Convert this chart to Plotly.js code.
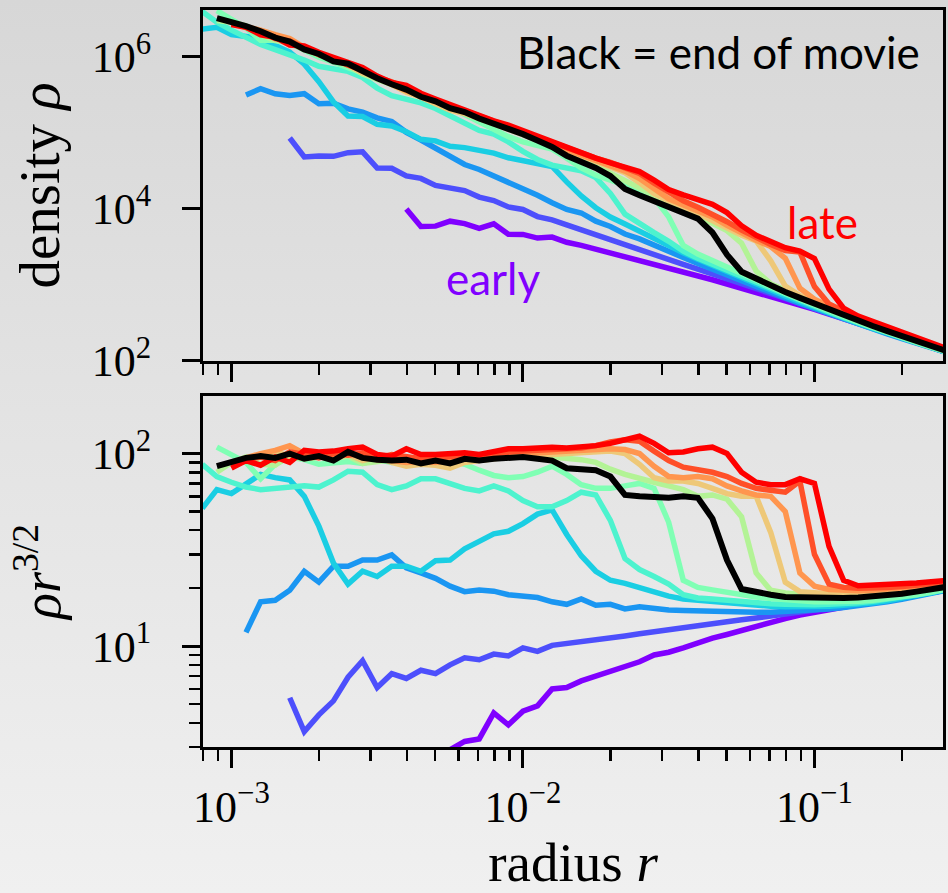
<!DOCTYPE html>
<html>
<head>
<meta charset="utf-8">
<script src="https://cdn.plot.ly/plotly-3.0.1.min.js"></script>
<style>
html,body{margin:0;padding:0;}
body{width:948px;height:893px;overflow:hidden;background:linear-gradient(to bottom,#d7d7d7 0%,#e4e4e4 50%,#f0f0f0 100%);}
#chart{width:948px;height:893px;}
</style>
</head>
<body>
<div id="chart"></div>
<script>
// radius grid (shared by all profiles)
const radius = [7.943e-4, 8.913e-4, 1.000e-3, 1.122e-3, 1.259e-3, 1.413e-3, 1.585e-3, 1.778e-3, 1.995e-3, 2.239e-3,
  2.512e-3, 2.818e-3, 3.162e-3, 3.548e-3, 3.981e-3, 4.467e-3, 5.012e-3, 5.623e-3, 6.310e-3, 7.079e-3,
  7.943e-3, 8.913e-3, 0.01, 0.01122, 0.01259, 0.01413, 0.01585, 0.01778, 0.01995, 0.02239,
  0.02512, 0.02818, 0.03162, 0.03548, 0.03981, 0.04467, 0.05012, 0.05623, 0.06310, 0.07079,
  0.07943, 0.08913, 0.1, 0.1122, 0.1259, 0.1413, 0.1585, 0.1778, 0.1995, 0.2239,
  0.2512, 0.2818];

// compensated profiles rho*r^(3/2), early -> late, then the final (black) snapshot
const snap00 = [null,null,null,null,null,null,null,null,null,null,null,null,null,null,
  2.5,1.75,2.1,2.9,3.2,3.3,4.5,3.9,4.6,4.9,6.0,6.1,6.6,7.0,7.5,7.9,8.3,9.0,9.3,9.8,10.4,11.0,11.5,12.1,12.7,13.3,13.9,14.5,15.0,15.5,16.0,16.5,17.0,17.5,18.0,18.5,19.0,19.5];
const snap01 = [null,null,null,null,null,null,
  5.4,3.6,4.4,5.2,6.9,8.4,6.1,7.2,6.8,7.5,7.2,8.0,8.7,8.5,9.1,8.9,9.8,9.4,10.1,10.3,10.5,10.8,11.1,11.3,11.6,11.9,12.2,12.4,12.8,13.1,13.4,13.7,14.0,14.3,14.6,15.0,15.4,15.8,16.2,16.6,17.0,17.5,18.0,18.5,19.0,19.5];
const snap02 = [null,null,null,
  11.8,17.0,17.3,19.5,24.5,21.5,26.0,26.0,28.0,28.0,29.8,25.5,24.0,22.5,20.5,19.2,19.6,19.3,18.5,18.2,17.9,17.0,16.5,17.6,16.3,16.5,15.6,16.0,15.6,15.4,15.3,15.2,15.1,15.0,15.0,15.0,15.0,15.1,15.2,15.4,15.6,15.9,16.2,16.6,17.0,17.5,18.1,18.8,19.5];
const snap03 = [52,65,62,70,78,75,73,60,42,27,21,24.5,23,26,26,24.5,27.8,28,32,35,38.3,39.5,43.3,48.5,51,38,29.5,24.5,22,21.2,20.2,19.0,18.2,17.6,17.3,17.0,16.7,16.4,16.2,16.1,16.0,16.0,16.0,16.1,16.3,16.5,16.8,17.2,17.7,18.3,18.9,19.6];
const snap04 = [88,76,71,67,65,66,68,68,67,73,81,80,69,65,68,74,74,70,66,64,68,64,57,53,53,57,63,61,45,28.5,25,23,21,18.5,17.8,17.6,17.3,17.0,16.8,16.6,16.5,16.4,16.4,16.5,16.6,16.8,17.1,17.5,17.9,18.4,19.0,19.7];
const snap05 = [null,108,99,90,74,88,96,93,88,90,91,89,93,90,93,91,94,92,88,82,77,75,76,80,86,78,69,66,66,68,70,66,44,22,20.2,19.6,19.0,18.5,18.0,17.7,17.4,17.2,17.0,17.0,17.0,17.1,17.3,17.6,18.0,18.5,19.1,19.8];
const snap06 = [null,80,90,96,88,87,98,95,96,94,97,89,91,93,92,90,91,90,92,94,95,96,97,97,96,95,93,90,83,78,75,71,68,65,60,61,58,47,24,19.5,18.9,18.5,18.3,18.2,18.2,18.3,18.5,18.8,19.1,19.5,20.0,20.5];
const snap07 = [null,null,86,92,98,102,97,94,96,94,99,92,96,90,86,88,87,84,90,92,94,96,98,98,99,100,101,102,103,100,88,75,72,72,70,66,62,60,60,39,21.5,19.2,18.9,18.7,18.7,18.8,19.0,19.3,19.6,20.0,20.4,20.9];
const snap08 = [null,null,88,95,100,104,110,100,98,96,100,96,93,92,90,91,90,92,93,95,98,99,100,101,102,103,104,105,106,105,100,86,76,75,76,74,68,64,61,60,50,24,20.5,19.7,19.4,19.4,19.5,19.7,20.0,20.4,20.8,21.2];
const snap09 = [null,null,90,93,96,92,102,99,95,100,98,101,95,99,96,94,95,97,98,97,100,102,103,104,105,105,107,110,115,118,116,103,92,85,83,80,76,70,66,64,63,72,30,21,20.2,20.0,20.0,20.2,20.4,20.7,21.0,21.4];
const snap10 = [null,null,84,92,87,96,90,104,102,103,106,108,99,97,106,99,99,100,101,99,102,106,106,107,108,107,108,110,113,118,123,113,101,102,106,108,100,80,71,69,69,74,70,33,22,20.6,20.7,20.9,21.1,21.3,21.6,21.9];
const snapFinal = [null,86,91,95,97,95,100,94,97,92,102,95,93,92,93,89,92,89,94,92,94,95,96,94,92,84,83,82,76,61,60,59.5,59,60,59,46,28,19.8,19.0,18.5,18.0,17.9,17.8,17.7,17.8,17.9,18.1,18.4,18.7,19.2,19.7,20.3];

const snapshots = [snap00, snap01, snap02, snap03, snap04, snap05, snap06, snap07, snap08, snap09, snap10];
const snapColors = ['#8000ff','#4d4ffc','#1a96f2','#1acee3','#4df3ce','#80ffb4','#b3f396','#eec878','#ff964f','#ff4f28','#ff0000'];
const finalColor = '#000000';

// axis ticks
const xMajor = [1e-3, 1e-2, 1e-1];
const xMajorText = ['10<sup>−3</sup>', '10<sup>−2</sup>', '10<sup>−1</sup>'];
const xMinor = [8e-4, 9e-4, 2e-3, 3e-3, 4e-3, 5e-3, 6e-3, 7e-3, 8e-3, 9e-3,
  2e-2, 3e-2, 4e-2, 5e-2, 6e-2, 7e-2, 8e-2, 9e-2, 2e-1];
const yTopMajor = [1e2, 1e4, 1e6];
const yTopText = ['10<sup>2</sup>', '10<sup>4</sup>', '10<sup>6</sup>'];
const yBotMajor = [10, 100];
const yBotText = ['10<sup>1</sup>', '10<sup>2</sup>'];
const yBotMinor = [3, 4, 5, 6, 7, 8, 9, 20, 30, 40, 50, 60, 70, 80, 90, 200];

const serif = 'Liberation Serif, Times New Roman, serif';
const sans = 'Lato, Open Sans, sans-serif';

const traces = [];
function addProfile(vals, color, width) {
  const dens = vals.map((v, j) => v == null ? null : v / Math.pow(radius[j], 1.5));
  traces.push({x: radius, y: dens, xaxis: 'x', yaxis: 'y', type: 'scatter', mode: 'lines',
    line: {color: color, width: width}, hoverinfo: 'skip', showlegend: false});
  traces.push({x: radius, y: vals, xaxis: 'x2', yaxis: 'y2', type: 'scatter', mode: 'lines',
    line: {color: color, width: width}, hoverinfo: 'skip', showlegend: false});
}
snapshots.forEach((s, i) => addProfile(s, snapColors[i], 5.5));
addProfile(snapFinal, finalColor, 6);

const axisCommon = {
  type: 'log', showgrid: false, zeroline: false,
  showline: true, linecolor: '#000', linewidth: 3, mirror: true,
  ticks: 'outside', ticklen: 18, tickwidth: 3, tickcolor: '#000',
  tickfont: {family: serif, size: 44, color: '#000'},
};
const xRange = [-3.0975, -0.559];

const layout = {
  width: 948, height: 893,
  margin: {l: 203, r: 5, t: 10, b: 146, pad: 0},
  paper_bgcolor: 'rgba(0,0,0,0)',
  plot_bgcolor: 'rgba(0,0,0,0)',
  showlegend: false,
  xaxis: Object.assign({}, axisCommon, {
    range: xRange, domain: [0, 1], anchor: 'y',
    tickvals: xMajor, ticktext: xMajorText, showticklabels: false,
    minor: {tickvals: xMinor, ticks: 'outside', ticklen: 11, tickwidth: 2.5, tickcolor: '#000', showgrid: false}
  }),
  yaxis: Object.assign({}, axisCommon, {
    range: [2, 6.616], domain: [0.524, 1], anchor: 'x',
    tickvals: yTopMajor, ticktext: yTopText, ticklabelstandoff: 22,
    title: {text: 'density <i>ρ</i>', font: {family: serif, size: 57, color: '#000'}, standoff: 14}
  }),
  xaxis2: Object.assign({}, axisCommon, {
    range: xRange, domain: [0, 1], anchor: 'y2',
    tickvals: xMajor, ticktext: xMajorText, ticklabelstandoff: 1,
    minor: {tickvals: xMinor, ticks: 'outside', ticklen: 11, tickwidth: 2.5, tickcolor: '#000', showgrid: false},
    title: {text: 'radius <i>r</i>', font: {family: serif, size: 55, color: '#000'}, standoff: 12}
  }),
  yaxis2: Object.assign({}, axisCommon, {
    range: [0.4765, 2.3], domain: [0, 0.4765], anchor: 'x2',
    tickvals: yBotMajor, ticktext: yBotText, ticklabelstandoff: 22,
    minor: {tickvals: yBotMinor, ticks: 'outside', ticklen: 11, tickwidth: 2.5, tickcolor: '#000', showgrid: false},
    title: {text: '<i>ρr</i><sup>3/2</sup>', font: {family: serif, size: 54, color: '#000'}, standoff: 14}
  }),
  annotations: [
    {text: 'Black = end of movie', xref: 'paper', yref: 'paper', x: 0.9716, y: 0.943,
      xanchor: 'right', yanchor: 'middle', showarrow: false, font: {family: sans, size: 44, color: '#000'}},
    {text: 'late', xref: 'paper', yref: 'paper', x: 0.8365, y: 0.713,
      xanchor: 'center', yanchor: 'middle', showarrow: false, font: {family: sans, size: 44, color: '#ff0000'}},
    {text: 'early', xref: 'paper', yref: 'paper', x: 0.3926, y: 0.636,
      xanchor: 'center', yanchor: 'middle', showarrow: false, font: {family: sans, size: 44, color: '#8000ff'}}
  ]
};

Plotly.newPlot('chart', traces, layout, {displayModeBar: false, staticPlot: true});
</script>
</body>
</html>
